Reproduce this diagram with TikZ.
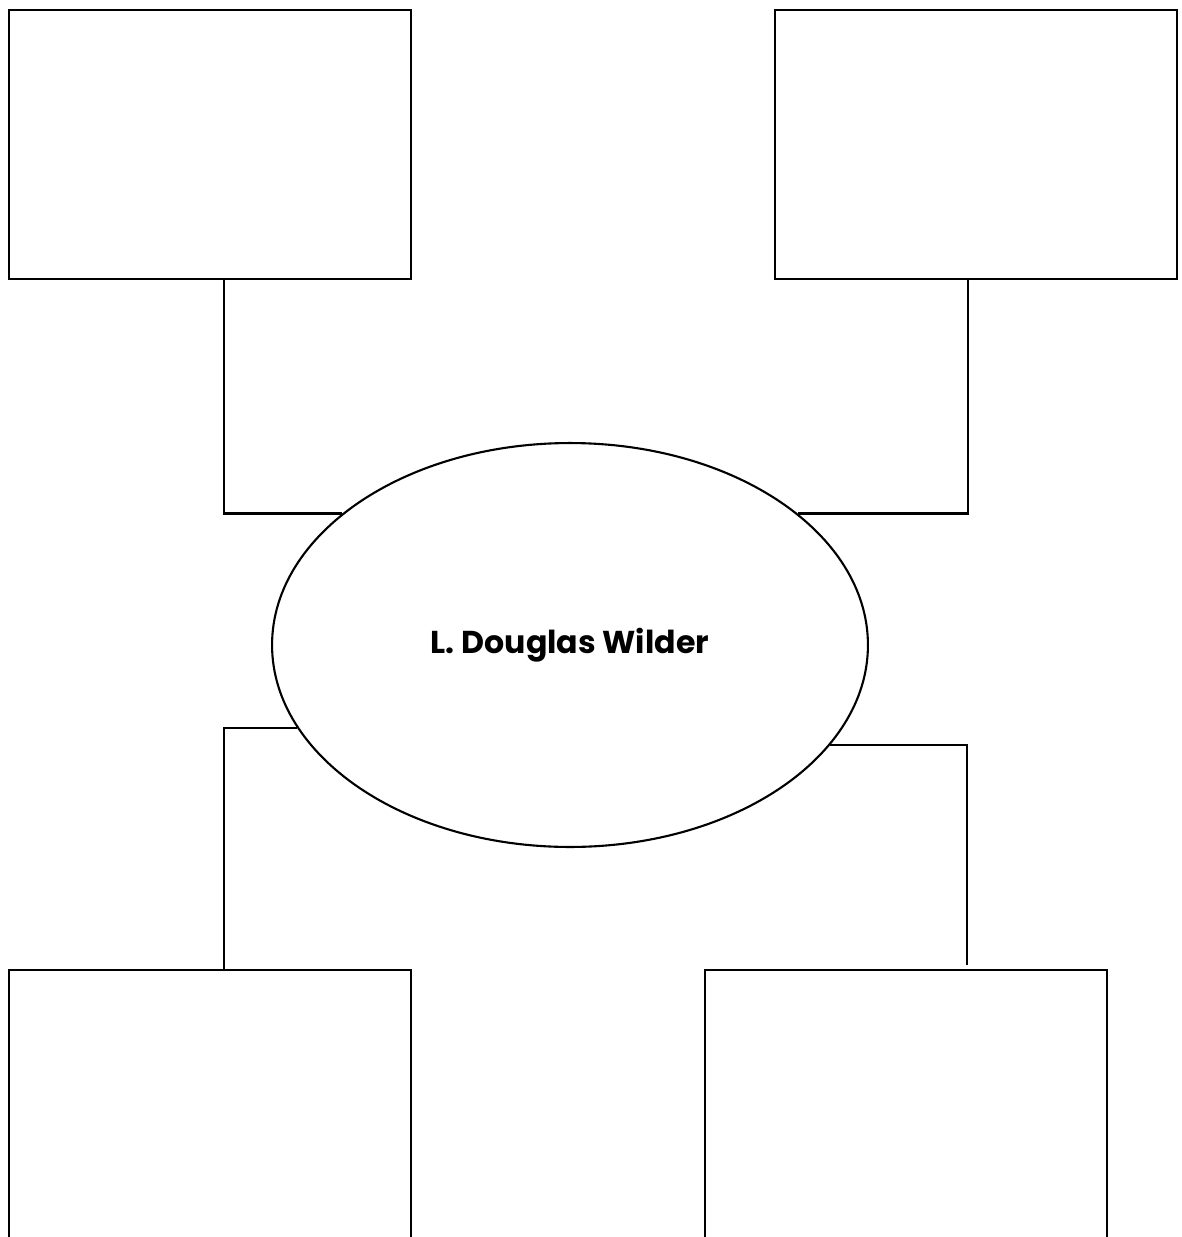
\documentclass[tikz,border=0pt]{standalone}
\usepackage{fontspec}
\newfontfamily\gothic{Poppins}
\usetikzlibrary{shapes.geometric, positioning, calc}

\begin{document}
\begin{tikzpicture}[
  x=0.02cm, y=-0.02cm,
  infobox/.style={draw, line width=1.2pt, minimum width=8.04cm, minimum height=5.38cm},
  lowbox/.style={draw, line width=1.2pt, minimum width=8.04cm, minimum height=6.2cm},
  hub/.style={draw, ellipse, line width=1.2pt, minimum width=11.92cm, minimum height=8.08cm,
              font=\gothic\bfseries\fontsize{18}{21}\selectfont},
  link/.style={line width=1.2pt},
]
\useasboundingbox (0,0) rectangle (1181,1237);
\clip (0,0) rectangle (1181,1237);

% ── centre ───────────────────────────────────────────────────
\node[hub] (wilder) at (570,645) {L. Douglas Wilder};

% ── boxes ────────────────────────────────────────────────────
\node[infobox] (topleft)  at (210,144.5) {};
\node[infobox] (topright) at (976,144.5) {};
\node[lowbox, anchor=north] (botleft)  at (210,969) {};
\node[lowbox, anchor=north] (botright) at (906,969) {};

% ── connectors ───────────────────────────────────────────────
\draw[link] (topleft.south -| 224,0) |- (wilder.150);
\draw[link] (wilder.30) -| (topright.south -| 968,0);
\draw[link] (botleft.north -| 224,0) |- (wilder.197.7);
\draw[link] (wilder.339.4) -| ($(botright.north -| 967,0)+(0,-4)$);

\end{tikzpicture}
\end{document}
